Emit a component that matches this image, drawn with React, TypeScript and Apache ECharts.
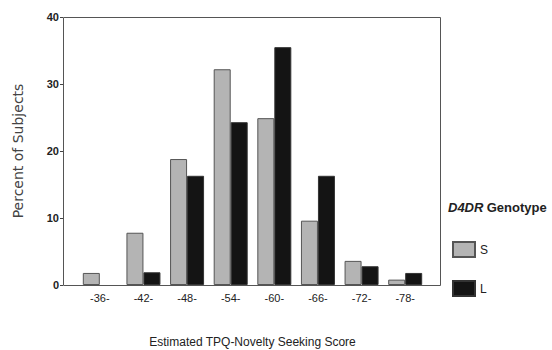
import React, { useEffect, useRef } from "react";
import * as echarts from "echarts";

const categories = ["-36-", "-42-", "-48-", "-54-", "-60-", "-66-", "-72-", "-78-"];
const seriesS = [1.8, 7.8, 18.8, 32.2, 24.9, 9.6, 3.6, 0.8];
const seriesL = [0, 1.9, 16.3, 24.3, 35.5, 16.3, 2.8, 1.8];
const yTicks = { min: 0, max: 40, interval: 10 };

export default function App() {
  const ref = useRef<HTMLDivElement>(null);
  useEffect(() => {
    if (!ref.current) return;
    const chart = echarts.init(ref.current, null, { renderer: "svg" });
    const font = "'Liberation Sans', Arial, sans-serif";
    const toData = (arr: number[]) =>
      arr.map((v) => (v === 0 ? { value: v, itemStyle: { borderWidth: 0 } } : v));
    chart.setOption({
      animation: false,
      backgroundColor: "#ffffff",
      grid: { left: 78, right: 125, top: 17, bottom: 65, containLabel: false, outerBoundsMode: "none" },
      xAxis: {
        type: "category",
        data: categories,
        axisLine: { show: false },
        axisTick: { show: false },
        axisLabel: { color: "#222", fontSize: 11, fontFamily: font, margin: 7 },
        name: "Estimated TPQ-Novelty Seeking Score",
        nameLocation: "middle",
        nameGap: 51,
        nameTextStyle: { color: "#222", fontSize: 12, fontFamily: font },
      },
      yAxis: {
        type: "value",
        min: yTicks.min,
        max: yTicks.max,
        interval: yTicks.interval,
        offset: 15,
        axisLine: { show: false },
        axisTick: { show: true, length: 3, lineStyle: { color: "#444" } },
        splitLine: { show: false },
        axisLabel: { color: "#222", fontSize: 11, fontWeight: "bold", fontFamily: font, margin: 4 },
        name: "Percent of Subjects",
        nameLocation: "middle",
        nameGap: 38,
        nameTextStyle: { color: "#444", fontSize: 14, fontFamily: "'DejaVu Sans', sans-serif" },
      },
      legend: {
        orient: "vertical",
        left: 447,
        top: 236,
        icon: "rect",
        itemWidth: 22,
        itemHeight: 15,
        itemGap: 22,
        textStyle: { color: "#222", fontSize: 12, fontFamily: font },
        data: ["S", "L"],
      },
      graphic: [
        {
          type: "rect",
          shape: { x: 63.5, y: 17.5, width: 377, height: 268 },
          style: { fill: "none", stroke: "#555", lineWidth: 1 },
          z: 10,
          silent: true,
        },
        {
          type: "text",
          left: 448,
          top: 201,
          style: {
            text: "{a|D4DR} {b|Genotype}",
            rich: {
              a: { fontSize: 13, fontWeight: "bold", fontStyle: "italic", fontFamily: font, fill: "#222" },
              b: { fontSize: 13, fontWeight: "bold", fontFamily: font, fill: "#222" },
            },
          },
        },
      ],
      series: [
        {
          name: "S",
          type: "bar",
          data: toData(seriesS),
          barWidth: 17,
          barGap: "0%",
          itemStyle: { color: "#b4b4b4", borderColor: "#555", borderWidth: 1 },
        },
        {
          name: "L",
          type: "bar",
          data: toData(seriesL),
          barWidth: 17,
          barGap: "0%",
          itemStyle: { color: "#141414", borderColor: "#333", borderWidth: 1 },
        },
      ],
    });
    return () => chart.dispose();
  }, []);
  return <div ref={ref} style={{ width: 552, height: 350, position: "absolute", left: 0, top: 0 }} />;
}
